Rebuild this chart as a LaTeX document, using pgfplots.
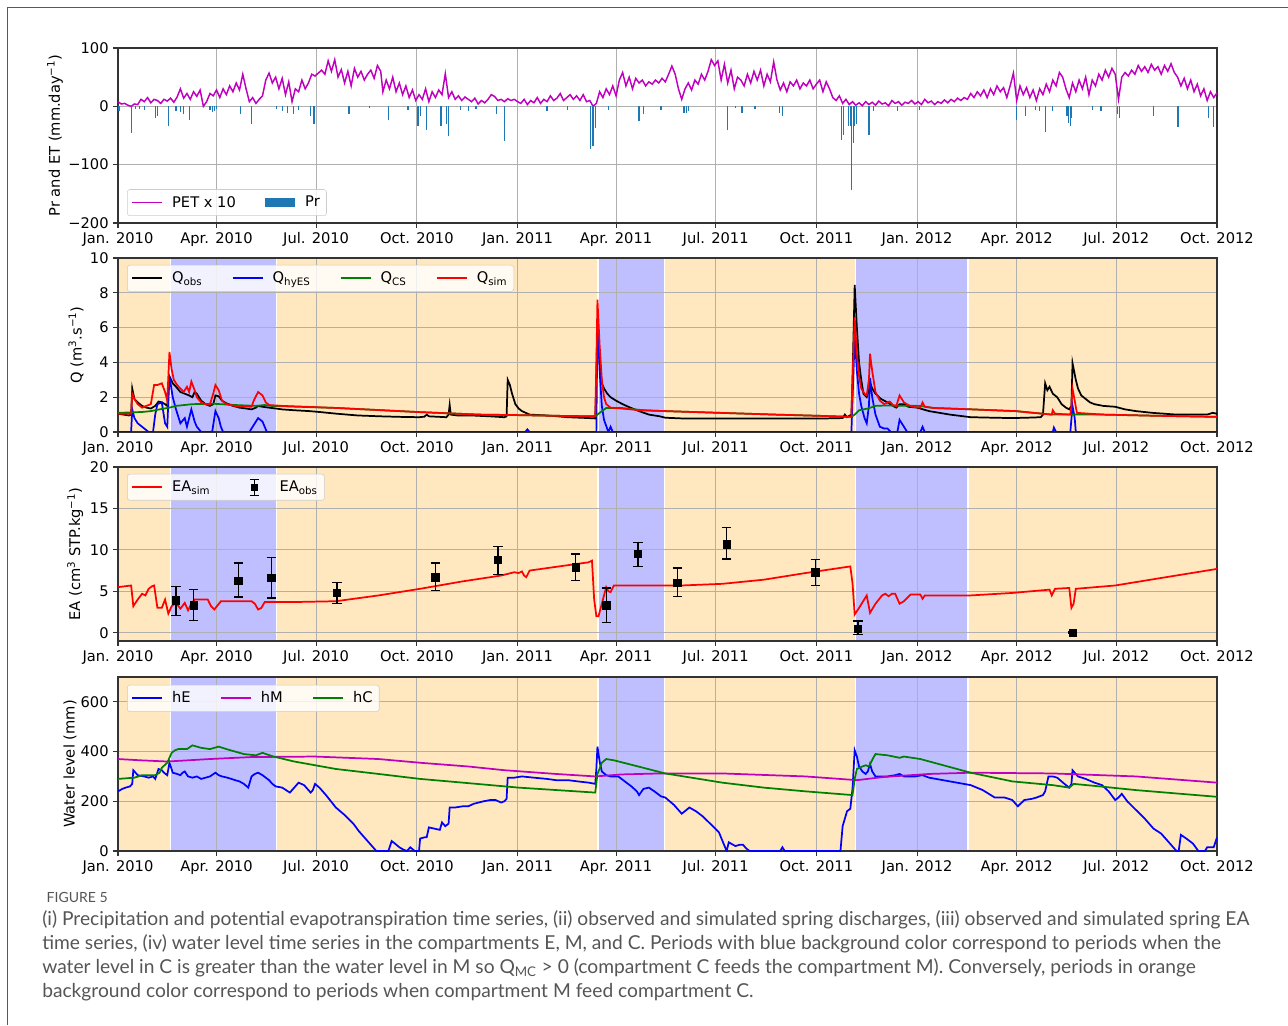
\documentclass[border=0pt]{standalone}
\usepackage{fontspec}
\setmainfont{DejaVu Sans}
\newfontfamily\capfont{Lato}
\usepackage{pgfplots}
\pgfplotsset{compat=1.18}
\definecolor{orbg}{RGB}{255,231,191}
\definecolor{blbg}{RGB}{191,191,255}
\definecolor{mplm}{RGB}{191,0,191}
\definecolor{mplg}{RGB}{0,128,0}
\definecolor{prblue}{RGB}{31,119,180}
\definecolor{gridc}{RGB}{176,176,176}
\definecolor{capgray}{RGB}{85,85,85}
\pgfplotsset{set layers=standard}
\pgfplotsset{
 panel/.style={
  scale only axis, width=824.25pt, xmin=0, xmax=1004,
  xtick={0,90,181,273,365,455,546,638,730,821,912,1004},
  xticklabels={Jan. 2010,Apr. 2010,Jul. 2010,Oct. 2010,Jan. 2011,Apr. 2011,Jul. 2011,Oct. 2011,Jan. 2012,Apr. 2012,Jul. 2012,Oct. 2012},
  tick align=outside, tick pos=left, major tick length=3.5pt,
  grid=major, grid style={gridc, line width=0.6pt},
  axis line style={black!80, line width=0.8pt},
  tick style={black!80, line width=0.8pt},
  tick label style={font=\fontsize{11}{13}\selectfont},
  label style={font=\fontsize{11}{13}\selectfont},
  legend cell align=left,
  legend style={font=\fontsize{11}{13}\selectfont, fill=white, fill opacity=0.8, text opacity=1, draw opacity=1, draw=black!20, rounded corners=2pt, inner sep=3pt, /tikz/every even column/.append style={column sep=20pt}},
  legend image code/.code={\draw[##1, sharp corners, draw opacity=1, line width=1.3pt] (0pt,0pt) -- (22.5pt,0pt); \path[draw=none, fill=none] (0pt,0pt) -- (28pt,0pt);},
  set layers=standard, clip mode=individual,
  /pgf/number format/assume math mode=true,
  ylabel style={anchor=center},
 }
}
\newcommand{\bgspans}[2]{%
 \addplot[on layer=axis background, fill=orbg, draw=white, line width=1pt, forget plot] coordinates {(-5,#1) (48,#1) (48,#2) (-5,#2)} -- cycle;
 \addplot[on layer=axis background, fill=blbg, draw=white, line width=1pt, forget plot] coordinates {(48,#1) (145,#1) (145,#2) (48,#2)} -- cycle;
 \addplot[on layer=axis background, fill=orbg, draw=white, line width=1pt, forget plot] coordinates {(145,#1) (438.5,#1) (438.5,#2) (145,#2)} -- cycle;
 \addplot[on layer=axis background, fill=blbg, draw=white, line width=1pt, forget plot] coordinates {(438.5,#1) (499,#1) (499,#2) (438.5,#2)} -- cycle;
 \addplot[on layer=axis background, fill=orbg, draw=white, line width=1pt, forget plot] coordinates {(499,#1) (674,#1) (674,#2) (499,#2)} -- cycle;
 \addplot[on layer=axis background, fill=blbg, draw=white, line width=1pt, forget plot] coordinates {(674,#1) (776.5,#1) (776.5,#2) (674,#2)} -- cycle;
 \addplot[on layer=axis background, fill=orbg, draw=white, line width=1pt, forget plot] coordinates {(776.5,#1) (1010,#1) (1010,#2) (776.5,#2)} -- cycle;
}
\begin{document}
\begin{tikzpicture}
\draw[line width=1pt, black!65] (5.7pt,0pt) -- (5.7pt,763.2pt) -- (966pt,763.2pt);

% ---------------- Panel 1 ----------------
\begin{axis}[panel, at={(88.5pt,601.5pt)}, anchor=south west, height=131.25pt,
 ymin=-200, ymax=100, ytick={-200,-100,0,100}, yticklabels={−200,−100,0,100},
 ylabel={Pr and ET (mm.day\textsuperscript{−1})},
 ylabel style={at={(axis description cs:-0.0573,0.5)}},
 legend style={at={(0.0082,0.04)}, anchor=south west}, legend columns=2]
\addplot[mplm, line width=1.1pt] coordinates {
(0,8)(3,4)(6,5)(9,2)(12,0)(15,4)(18,3)(21,12)(24,8)(27,15)(30,6)(33,12)(36,10)(39,5)(42,12)(45,9)(48,14)(51,7)(54,16)(57,30)(60,14)(63,22)(66,12)(69,25)(72,17)(75,28)(78,0)(81,8)(84,22)(87,18)(90,28)(93,15)(96,30)(99,20)(102,35)(105,25)(108,40)(111,28)(114,55)(117,30)(120,8)(123,15)(126,5)(129,12)(132,18)(135,45)(138,57)(141,40)(144,50)(147,30)(150,48)(153,20)(156,42)(159,8)(162,30)(165,25)(168,45)(171,30)(174,40)(177,55)(180,52)(183,57)(186,62)(189,55)(192,78)(195,60)(198,80)(201,50)(204,63)(207,40)(210,60)(213,35)(216,65)(219,50)(222,60)(225,45)(228,55)(231,62)(234,48)(237,70)(240,60)(242,25)(245,45)(248,30)(251,50)(254,25)(257,40)(260,20)(263,35)(266,15)(269,28)(272,10)(275,20)(278,12)(281,30)(284,8)(287,25)(290,15)(293,28)(296,20)(299,56)(302,15)(305,25)(308,12)(311,18)(314,10)(317,16)(320,12)(323,8)(326,14)(329,4)(332,10)(335,6)(338,12)(341,20)(344,17)(347,10)(350,12)(353,8)(356,13)(359,10)(362,12)(365,8)(368,5)(371,12)(374,3)(377,10)(380,6)(383,15)(386,5)(389,12)(392,8)(395,18)(398,10)(401,14)(404,22)(407,10)(410,15)(413,20)(416,12)(419,18)(422,10)(425,20)(428,8)(431,10)(434,0)(437,5)(440,25)(443,15)(446,30)(449,20)(452,35)(455,18)(458,45)(461,58)(464,35)(467,50)(470,30)(473,48)(476,40)(479,45)(482,35)(485,42)(488,38)(491,45)(494,40)(497,48)(500,42)(503,55)(506,69)(509,55)(512,30)(515,12)(518,30)(521,40)(524,28)(527,45)(530,38)(533,55)(536,45)(539,60)(542,80)(545,70)(548,78)(551,45)(554,72)(557,40)(560,62)(563,30)(566,50)(569,45)(572,35)(575,55)(578,40)(581,60)(584,45)(587,62)(590,35)(593,55)(596,42)(599,76)(602,45)(605,28)(608,40)(611,25)(614,42)(617,35)(620,45)(623,30)(626,40)(629,35)(632,45)(635,30)(638,38)(641,45)(644,25)(647,42)(650,30)(653,15)(656,10)(659,18)(662,5)(665,12)(668,3)(671,8)(674,2)(677,6)(680,1)(683,8)(686,3)(689,7)(692,2)(695,9)(698,4)(701,6)(704,1)(707,10)(710,5)(713,8)(716,2)(719,7)(722,5)(725,10)(728,4)(731,8)(734,3)(737,12)(740,6)(743,9)(746,3)(749,8)(752,5)(755,11)(758,6)(761,12)(764,8)(767,14)(770,10)(773,15)(776,12)(779,22)(782,15)(785,25)(788,18)(791,28)(794,15)(797,30)(800,20)(803,35)(806,25)(809,32)(812,15)(815,35)(818,57)(821,10)(824,35)(827,20)(830,32)(833,15)(836,28)(839,10)(842,30)(845,20)(848,38)(851,25)(854,45)(857,35)(860,58)(863,50)(866,30)(869,15)(872,40)(875,25)(878,45)(881,30)(884,50)(887,20)(890,45)(893,35)(896,55)(899,45)(902,62)(905,50)(908,65)(911,55)(914,12)(917,50)(920,58)(923,52)(926,62)(929,55)(932,70)(935,60)(938,68)(941,58)(944,72)(947,62)(950,68)(953,55)(956,70)(959,60)(962,73)(965,58)(968,50)(971,35)(974,48)(977,30)(980,45)(983,25)(986,38)(989,18)(992,30)(995,10)(998,25)(1001,15)(1004,23)
};
\addlegendentry{PET x 10}
\addplot[ycomb, prblue, line width=0.9pt, legend image code/.code={\fill[prblue, draw=none, sharp corners, fill opacity=1] (0pt,-3.5pt) rectangle (22.5pt,3.5pt); \path[draw=none, fill=none] (0pt,0pt) -- (28pt,0pt);}] coordinates {
(1,-8)(12,-45)(16,-5)(20,-4)(24,-6)(34,-20)(36,-17)(46,-34)(53,-8)(57,-10)(60,-14)(65,-23)(84,-6)(86,-10)(88,-8)(90,-5)(112,-14)(122,-30)(145,-4)(150,-8)(155,-12)(160,-14)(165,-6)(176,-17)(179,-30)(211,-13)(230,-3)(247,-24)(265,-6)(274,-34)(276,-17)(282,-40)(295,-34)(300,-31)(302,-51)(313,-6)(320,-8)(327,-5)(346,-14)(353,-60)(392,-8)(411,-6)(432,-74)(434,-68)(436,-37)(448,-6)(476,-26)(480,-14)(496,-6)(517,-11)(519,-12)(521,-8)(557,-40)(564,-3)(570,-11)(582,-4)(604,-11)(607,-17)(661,-57)(663,-50)(667,-34)(669,-34)(670,-144)(672,-63)(673,-34)(675,-30)(686,-50)(690,-8)(712,-8)(732,-6)(821,-23)(829,-17)(838,-6)(842,-8)(847,-44)(854,-8)(867,-17)(868,-28)(870,-33)(871,-20)(890,-6)(898,-8)(913,-13)(915,-20)(946,-17)(968,-35)(969,-35)(996,-20)(1001,-35)
};
\addlegendentry{Pr}
\end{axis}

% ---------------- Panel 2 ----------------
\begin{axis}[panel, at={(88.5pt,444.75pt)}, anchor=south west, height=130.5pt,
 ymin=0, ymax=10, ytick={0,2,4,6,8,10},
 ylabel={Q (m\textsuperscript{3}.s\textsuperscript{−1})},
 ylabel style={at={(axis description cs:-0.0382,0.5)}},
 legend style={at={(0.0082,0.96)}, anchor=north west}, legend columns=4]
\bgspans{-1}{11}
\addplot[black, line width=1.3pt] coordinates {
(0,1.05)(5,1.0)(10,0.95)(12,1.0)(13,2.5)(15,1.9)(18,1.7)(22,1.5)(26,1.4)(30,1.35)(34,1.5)(37,1.75)(40,1.7)(43,1.6)(45,1.5)(47,3.2)(50,2.8)(53,2.6)(57,2.3)(61,2.2)(65,2.1)(68,2.0)(70,2.3)(72,2.2)(76,1.8)(80,1.6)(84,1.5)(87,1.6)(89,2.1)(92,2.05)(95,1.8)(99,1.65)(105,1.5)(111,1.4)(117,1.35)(122,1.3)(126,1.4)(128,1.5)(132,1.45)(138,1.4)(150,1.3)(161,1.25)(175,1.2)(184,1.15)(200,1.05)(219,0.95)(240,0.9)(257,0.87)(275,0.85)(280,0.88)(282,1.0)(284,0.9)(300,0.85)(302,1.0)(303,1.55)(304,1.0)(310,0.95)(323,0.95)(340,0.9)(353,0.85)(355,0.9)(356,3.0)(358,2.7)(360,2.2)(363,1.6)(366,1.35)(369,1.2)(376,1.0)(392,0.95)(411,0.85)(430,0.8)(436,0.78)(437,3.0)(438,6.4)(440,4.0)(442,2.8)(444,2.5)(447,2.2)(450,2.0)(455,1.8)(461,1.6)(468,1.4)(476,1.2)(485,1.0)(495,0.9)(500,0.82)(515,0.78)(550,0.77)(600,0.77)(640,0.77)(662,0.8)(664,1.0)(666,0.85)(670,1.0)(671,3.0)(673,8.45)(675,6.0)(677,4.0)(679,3.0)(681,2.2)(684,2.0)(686,2.4)(687,2.85)(689,2.5)(692,2.2)(697,1.9)(703,1.7)(708,1.5)(711,1.4)(714,1.6)(718,1.6)(722,1.45)(730,1.4)(741,1.2)(760,1.0)(779,0.85)(800,0.82)(817,0.8)(835,0.83)(843,0.85)(845,1.0)(847,2.8)(849,2.4)(851,2.6)(854,2.2)(858,2.0)(862,1.6)(866,1.4)(869,1.3)(871,1.5)(872,3.96)(875,3.0)(877,2.5)(880,2.1)(884,1.9)(888,1.7)(892,1.6)(900,1.5)(911,1.45)(920,1.3)(930,1.2)(945,1.1)(967,1.0)(980,1.0)(995,1.0)(1000,1.1)(1004,1.05)
};
\addlegendentry{Q\textsubscript{obs}}
\addplot[blue, line width=1.3pt] coordinates {
(0,0)(12,0)(13,1.3)(15,0.8)(18,0.5)(22,0.3)(26,0.1)(28,0)(32,0)(34,1.0)(36,1.6)(40,1.7)(43,0.5)(45,0.3)(47,3.2)(50,2.0)(53,1.3)(57,0.5)(61,0.8)(63,0.3)(67,1.3)(70,0.6)(72,0.3)(76,0)(86,0)(89,1.2)(92,0.8)(94,0.3)(96,0)(120,0)(124,0.4)(128,0.8)(132,0.6)(136,0)(372,0)(374,0.15)(376,0)(437,0)(438,6.5)(440,3.5)(442,1.5)(444,0.7)(448,0)(450,0.3)(452,0)(670,0)(673,5.5)(675,3.5)(677,2.2)(679,1.5)(682,0.8)(684,0.5)(686,1.5)(687,3.1)(689,2.0)(692,1.0)(696,0.3)(700,0.2)(703,0.2)(706,0)(712,0)(714,0.7)(716,0.5)(718,0.3)(721,0)(733,0)(735,0.3)(737,0)(854,0)(855,0.25)(857,0)(870,0)(872,1.5)(874,0.8)(875,0)(1004,0)
};
\addlegendentry{Q\textsubscript{hyES}}
\addplot[mplg, line width=1.3pt] coordinates {
(0,1.1)(22,1.15)(30,1.2)(38,1.3)(47,1.4)(53,1.5)(68,1.6)(88,1.62)(107,1.55)(126,1.5)(134,1.55)(140,1.5)(200,1.38)(273,1.15)(330,1.0)(365,0.97)(400,0.93)(436,0.9)(440,1.1)(446,1.38)(460,1.38)(480,1.25)(500,1.2)(550,1.1)(600,1.0)(640,0.93)(670,0.87)(673,1.0)(677,1.25)(685,1.35)(692,1.5)(700,1.52)(733,1.5)(745,1.38)(780,1.3)(820,1.2)(853,1.0)(900,1.0)(950,0.93)(1004,0.87)
};
\addlegendentry{Q\textsubscript{CS}}
\addplot[red, line width=1.3pt] coordinates {
(0,1.05)(12,1.05)(13,2.2)(15,1.9)(18,1.6)(22,1.4)(26,1.5)(30,1.6)(33,2.7)(36,2.7)(40,2.8)(43,2.3)(45,1.8)(47,4.6)(49,3.6)(51,3.0)(54,2.7)(57,2.5)(60,2.3)(63,2.6)(65,2.3)(67,2.9)(70,2.4)(72,2.0)(76,1.7)(80,1.6)(84,1.6)(87,2.2)(89,2.7)(92,2.4)(95,1.8)(99,1.6)(107,1.5)(122,1.45)(124,1.8)(128,2.3)(132,2.1)(135,1.7)(138,1.55)(150,1.5)(200,1.38)(273,1.15)(330,1.0)(365,0.97)(400,0.93)(436,0.9)(437,4.0)(438,7.6)(440,5.0)(442,3.0)(444,2.0)(446,1.6)(450,1.4)(460,1.35)(477,1.25)(500,1.2)(550,1.1)(600,1.0)(640,0.93)(670,0.87)(671,3.0)(673,6.6)(675,4.5)(677,3.2)(679,2.5)(682,2.2)(684,2.1)(686,3.0)(687,4.5)(689,3.5)(692,2.3)(696,1.8)(700,1.6)(703,1.7)(705,1.75)(708,1.55)(711,1.5)(713,1.9)(714,2.1)(716,1.9)(718,1.7)(722,1.55)(726,1.45)(733,1.4)(735,1.7)(737,1.45)(745,1.38)(780,1.3)(820,1.2)(853,1.0)(854,1.25)(856,1.05)(870,1.0)(871,1.5)(872,2.5)(874,1.8)(876,1.1)(900,1.0)(950,0.93)(1004,0.87)
};
\addlegendentry{Q\textsubscript{sim}}
\end{axis}

% ---------------- Panel 3 ----------------
\begin{axis}[panel, at={(88.5pt,288pt)}, anchor=south west, height=130.5pt,
 ymin=-1, ymax=20, ytick={0,5,10,15,20},
 ylabel={EA (cm\textsuperscript{3} STP.kg\textsuperscript{−1})},
 ylabel style={at={(axis description cs:-0.039,0.5)}},
 legend style={at={(0.0082,0.96)}, anchor=north west}, legend columns=2]
\bgspans{-3}{22}
\addplot[red, line width=1.3pt] coordinates {
(0,5.5)(12,5.7)(14,3.2)(18,4.0)(22,4.7)(25,4.5)(28,5.3)(31,5.6)(33,5.7)(36,3.0)(40,3.0)(43,4.0)(46,2.3)(49,3.2)(53,3.6)(57,2.9)(61,3.6)(64,2.7)(67,3.5)(70,4.0)(82,4.0)(85,3.2)(88,2.8)(91,3.3)(94,3.8)(122,3.8)(125,3.5)(128,2.8)(131,3.0)(134,3.7)(160,3.7)(199,3.8)(238,4.5)(276,5.3)(315,6.2)(350,6.9)(362,7.3)(366,7.2)(369,7.4)(371,6.9)(373,6.7)(376,7.5)(392,7.8)(430,8.5)(433,8.7)(435,4.0)(437,2.0)(439,2.0)(441,3.0)(444,4.5)(446,5.5)(448,5.0)(450,4.9)(453,5.7)(515,5.7)(552,5.9)(590,6.4)(628,7.2)(669,8.0)(671,6.0)(673,2.2)(677,3.0)(684,4.5)(687,2.4)(692,3.5)(698,4.5)(701,4.7)(704,4.4)(707,4.7)(710,4.7)(714,3.5)(718,3.8)(724,4.6)(733,4.6)(735,4.1)(737,4.5)(779,4.5)(817,4.8)(851,5.2)(853,4.5)(856,5.3)(869,5.4)(871,3.0)(873,3.5)(875,5.3)(911,5.7)(948,6.5)(1004,7.7)
};
\addlegendentry{EA\textsubscript{sim}}
\addplot[only marks, mark=square*, mark size=2.8pt, black,
 legend image code/.code={\draw[black, line width=1pt, sharp corners, draw opacity=1] (11.25pt,-6pt) -- (11.25pt,6pt) (7.75pt,-6pt) -- (14.75pt,-6pt) (7.75pt,6pt) -- (14.75pt,6pt); \fill[black, draw=none, sharp corners, fill opacity=1] (8.5pt,-2.75pt) rectangle (14pt,2.75pt); \path[draw=none, fill=none] (0pt,0pt) -- (28pt,0pt);},
 error bars/.cd, y dir=both, y explicit,
 error bar style={line width=1pt, black},
 error mark options={rotate=90, line width=1pt, mark size=3.5pt, black},
 ] table[x=x, y=y, y error plus=ep, y error minus=em] {
x y ep em
53 3.9 1.7 1.8
69 3.3 1.9 1.8
110 6.3 2.1 2.0
140 6.6 2.5 2.4
200 4.8 1.3 1.3
290 6.7 1.7 1.6
347 8.8 1.6 1.8
418 7.9 1.6 1.6
446 3.3 2.1 2.1
475 9.5 1.4 1.5
511 6.0 1.8 1.6
556 10.7 2.0 1.8
637 7.3 1.5 1.6
676 0.5 0.9 0.7
872 0.0 0.1 0.1
};
\addlegendentry{EA\textsubscript{obs}}
\end{axis}

% ---------------- Panel 4 ----------------
\begin{axis}[panel, at={(88.5pt,130.5pt)}, anchor=south west, height=130.5pt,
 ymin=0, ymax=700, ytick={0,200,400,600},
 ylabel={Water level (mm)},
 ylabel style={at={(axis description cs:-0.0437,0.5)}},
 legend style={at={(0.0082,0.955)}, anchor=north west}, legend columns=3]
\bgspans{-50}{750}
\addplot[blue, line width=1.3pt] coordinates {
(0,240)(4,250)(7,255)(11,260)(13,270)(14,325)(18,305)(24,300)(28,295)(32,300)(34,290)(37,330)(40,325)(42,315)(45,305)(47,355)(50,315)(54,310)(57,305)(59,315)(61,320)(64,300)(68,295)(72,300)(76,290)(80,295)(84,300)(89,315)(92,305)(95,300)(100,295)(107,285)(111,280)(115,270)(119,255)(122,300)(125,310)(128,315)(132,305)(138,285)(141,270)(144,260)(150,255)(157,235)(161,255)(165,275)(170,265)(176,235)(178,245)(180,270)(184,255)(190,225)(199,175)(207,145)(215,110)(220,80)(226,50)(231,25)(236,0)(247,0)(250,40)(253,30)(257,15)(261,5)(264,0)(267,15)(271,0)(275,0)(276,50)(280,55)(282,55)(284,95)(289,90)(294,85)(296,115)(299,100)(302,110)(303,175)(308,175)(315,180)(320,180)(325,190)(334,200)(340,205)(345,205)(350,195)(353,200)(355,210)(356,295)(362,295)(369,300)(380,295)(392,290)(400,285)(411,285)(420,280)(430,275)(436,270)(437,330)(438,420)(440,360)(442,320)(446,305)(450,300)(457,300)(463,280)(469,260)(474,240)(476,225)(480,250)(485,255)(490,240)(496,220)(500,215)(508,185)(515,150)(522,175)(528,160)(534,140)(541,110)(549,75)(556,0)(558,35)(562,25)(564,20)(568,25)(571,25)(574,10)(577,0)(605,0)(607,15)(609,0)(660,0)(662,100)(666,160)(669,170)(671,250)(673,405)(675,380)(677,340)(680,320)(683,310)(685,320)(687,350)(689,320)(692,300)(698,300)(703,300)(710,305)(714,310)(718,300)(722,300)(728,300)(735,305)(741,295)(760,280)(779,265)(790,245)(801,215)(810,215)(817,205)(822,180)(828,205)(835,210)(839,215)(845,225)(847,240)(850,300)(854,300)(858,295)(862,280)(866,265)(869,255)(871,270)(872,325)(875,310)(877,300)(884,290)(892,275)(899,265)(905,240)(911,205)(914,215)(917,230)(922,200)(930,165)(938,130)(946,90)(953,70)(960,35)(967,0)(969,0)(971,65)(976,50)(982,30)(987,0)(993,0)(995,15)(1001,15)(1004,55)
};
\addlegendentry{hE}
\addplot[mplm, line width=1.3pt] coordinates {
(0,370)(20,365)(45,360)(84,370)(122,378)(180,380)(238,370)(276,355)(320,340)(353,325)(400,310)(436,300)(460,308)(495,312)(552,312)(628,300)(675,285)(700,298)(741,310)(779,315)(854,312)(930,300)(1004,275)
};
\addlegendentry{hM}
\addplot[mplg, line width=1.3pt] coordinates {
(0,290)(15,295)(22,305)(34,305)(38,315)(40,335)(45,355)(49,395)(52,405)(55,410)(63,410)(68,425)(76,415)(84,410)(92,420)(99,410)(115,390)(126,385)(132,395)(142,380)(161,360)(180,345)(199,330)(238,310)(276,290)(315,275)(366,255)(436,235)(438,310)(442,355)(446,370)(453,365)(477,338)(500,312)(552,275)(590,255)(628,240)(671,225)(673,290)(675,330)(680,340)(683,345)(686,340)(690,375)(692,390)(703,385)(714,375)(718,380)(733,370)(779,315)(817,280)(854,265)(869,255)(873,270)(892,262)(930,245)(1004,218)
};
\addlegendentry{hC}
\end{axis}

% ---------------- Caption ----------------
\node[anchor=west, text=capgray, font=\capfont\fontsize{10.5}{12}\selectfont] at (31.5pt,96pt) {FIGURE 5};
\begin{scope}[every node/.style={anchor=west, text=capgray, font=\capfont\fontsize{14.4}{16}\selectfont, inner sep=0pt}]
\node at (31.5pt,78.75pt) {(i) Precipitation and potential evapotranspiration time series, (ii) observed and simulated spring discharges, (iii) observed and simulated spring EA};
\node at (31.5pt,60.75pt) {time series, (iv) water level time series in the compartments E, M, and C. Periods with blue background color correspond to periods when the};
\node at (31.5pt,42.75pt) {water level in C is greater than the water level in M so Q\textsubscript{MC} > 0 (compartment C feeds the compartment M). Conversely, periods in orange};
\node at (31.5pt,24.75pt) {background color correspond to periods when compartment M feed compartment C.};
\end{scope}
\pgfresetboundingbox
\path[use as bounding box] (0,0) rectangle (966pt,768.75pt);
\end{tikzpicture}
\end{document}
